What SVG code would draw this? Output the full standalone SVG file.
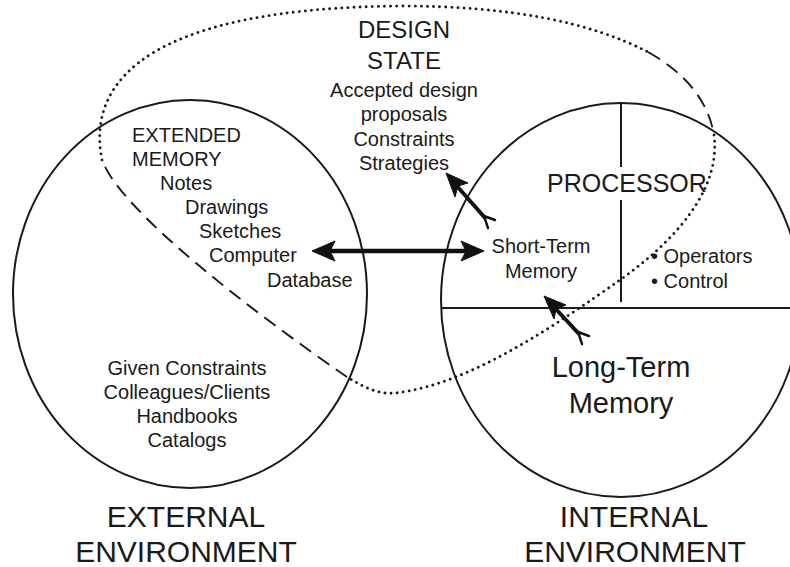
<svg xmlns="http://www.w3.org/2000/svg" width="790" height="567" viewBox="0 0 790 567">
<style>
text{font-family:"Liberation Sans",Arial,sans-serif;fill:#1a1a1a}
.s20{font-size:20px}
.mid{text-anchor:middle}
.big{font-size:30px}
.ring{fill:none;stroke:#1a1a1a;stroke-width:2}
.dot{fill:none;stroke:#1a1a1a;stroke-width:2.8;stroke-dasharray:0.1 6;stroke-linecap:round}
.dash{fill:none;stroke:#1a1a1a;stroke-width:1.9;stroke-dasharray:14 8}
.shaft{fill:none;stroke:#111;stroke-linecap:butt}
.head{fill:#111;stroke:#111;stroke-width:1;stroke-linejoin:miter}
.fork{fill:none;stroke:#111;stroke-width:2.4;stroke-linecap:round}
</style>
<rect width="790" height="567" fill="#ffffff"/>

<g id="design-state">
  <path class="dot" d="M102,160 C85,75 160,8 400,6 C510,6 590,22 648,52"/>
  <path class="dash" d="M648,52 C685,73 708,100 714,135"/>
  <path class="dot" d="M714,135 C720,180 690,230 620,280 C560,322 470,385 395,393 C378,395 362,386 347,377"/>
  <path class="dash" d="M347,377 C250,310 120,210 102,160"/>
  <text class="mid" x="404" y="38" font-size="24">DESIGN</text>
  <text class="mid" x="404" y="69" font-size="24">STATE</text>
  <text class="s20 mid" x="404" y="97">Accepted design</text>
  <text class="s20 mid" x="404" y="121">proposals</text>
  <text class="s20 mid" x="404" y="146">Constraints</text>
  <text class="s20 mid" x="404" y="170">Strategies</text>
</g>

<g id="external-environment">
  <ellipse class="ring" cx="190" cy="294" rx="177" ry="194"/>
  <text class="s20" x="132" y="142">EXTENDED</text>
  <text class="s20" x="132" y="166">MEMORY</text>
  <text class="s20" x="160" y="190">Notes</text>
  <text class="s20" x="185" y="214">Drawings</text>
  <text class="s20" x="199" y="238">Sketches</text>
  <text class="s20" x="209" y="262">Computer</text>
  <text class="s20" x="267" y="287">Database</text>
  <text class="s20 mid" x="187" y="375">Given Constraints</text>
  <text class="s20 mid" x="187" y="399">Colleagues/Clients</text>
  <text class="s20 mid" x="187" y="423">Handbooks</text>
  <text class="s20 mid" x="187" y="447">Catalogs</text>
  <text class="big mid" x="186" y="527">EXTERNAL</text>
  <text class="big mid" x="186" y="562">ENVIRONMENT</text>
</g>

<g id="internal-environment">
  <ellipse class="ring" cx="621" cy="300" rx="180" ry="197"/>
  <line class="ring" x1="441" y1="308" x2="790" y2="308"/>
  <line class="ring" x1="621" y1="103" x2="621" y2="167"/>
  <line class="ring" x1="621" y1="200" x2="621" y2="302"/>
  <text class="big mid" x="634" y="527">INTERNAL</text>
  <text class="big mid" x="635" y="562">ENVIRONMENT</text>
</g>

<g id="processor">
  <text class="mid" x="627" y="192" font-size="25">PROCESSOR</text>
  <text class="s20" x="651" y="263">• Operators</text>
  <text class="s20" x="651" y="288">• Control</text>
</g>

<g id="short-term-memory">
  <text class="s20 mid" x="541" y="253">Short-Term</text>
  <text class="s20 mid" x="541" y="278">Memory</text>
</g>

<g id="long-term-memory">
  <text class="mid" x="621" y="377" font-size="29">Long-Term</text>
  <text class="mid" x="621" y="413" font-size="29">Memory</text>
</g>

<g id="connectors">
  <!-- double arrow between extended memory and short-term memory -->
  <line class="shaft" x1="328" y1="251" x2="468" y2="251" stroke-width="4.5"/>
  <polygon class="head" points="312,251 335,241 330,251 335,261"/>
  <polygon class="head" points="484,251 461,241 466,251 461,261"/>
  <!-- short-term memory to design state -->
  <line class="shaft" x1="456" y1="185" x2="486" y2="219" stroke-width="4"/>
  <polygon class="head" points="446,173 468,183 458,186 455,197"/>
  <path class="fork" d="M484,216 L495,220 M484,216 L488,228"/>
  <!-- long-term memory to short-term memory -->
  <line class="shaft" x1="554" y1="307" x2="580" y2="335" stroke-width="4"/>
  <polygon class="head" points="544,296 566,305 556,309 554,319"/>
  <path class="fork" d="M578,332 L589,336 M578,332 L582,344"/>
</g>
</svg>
